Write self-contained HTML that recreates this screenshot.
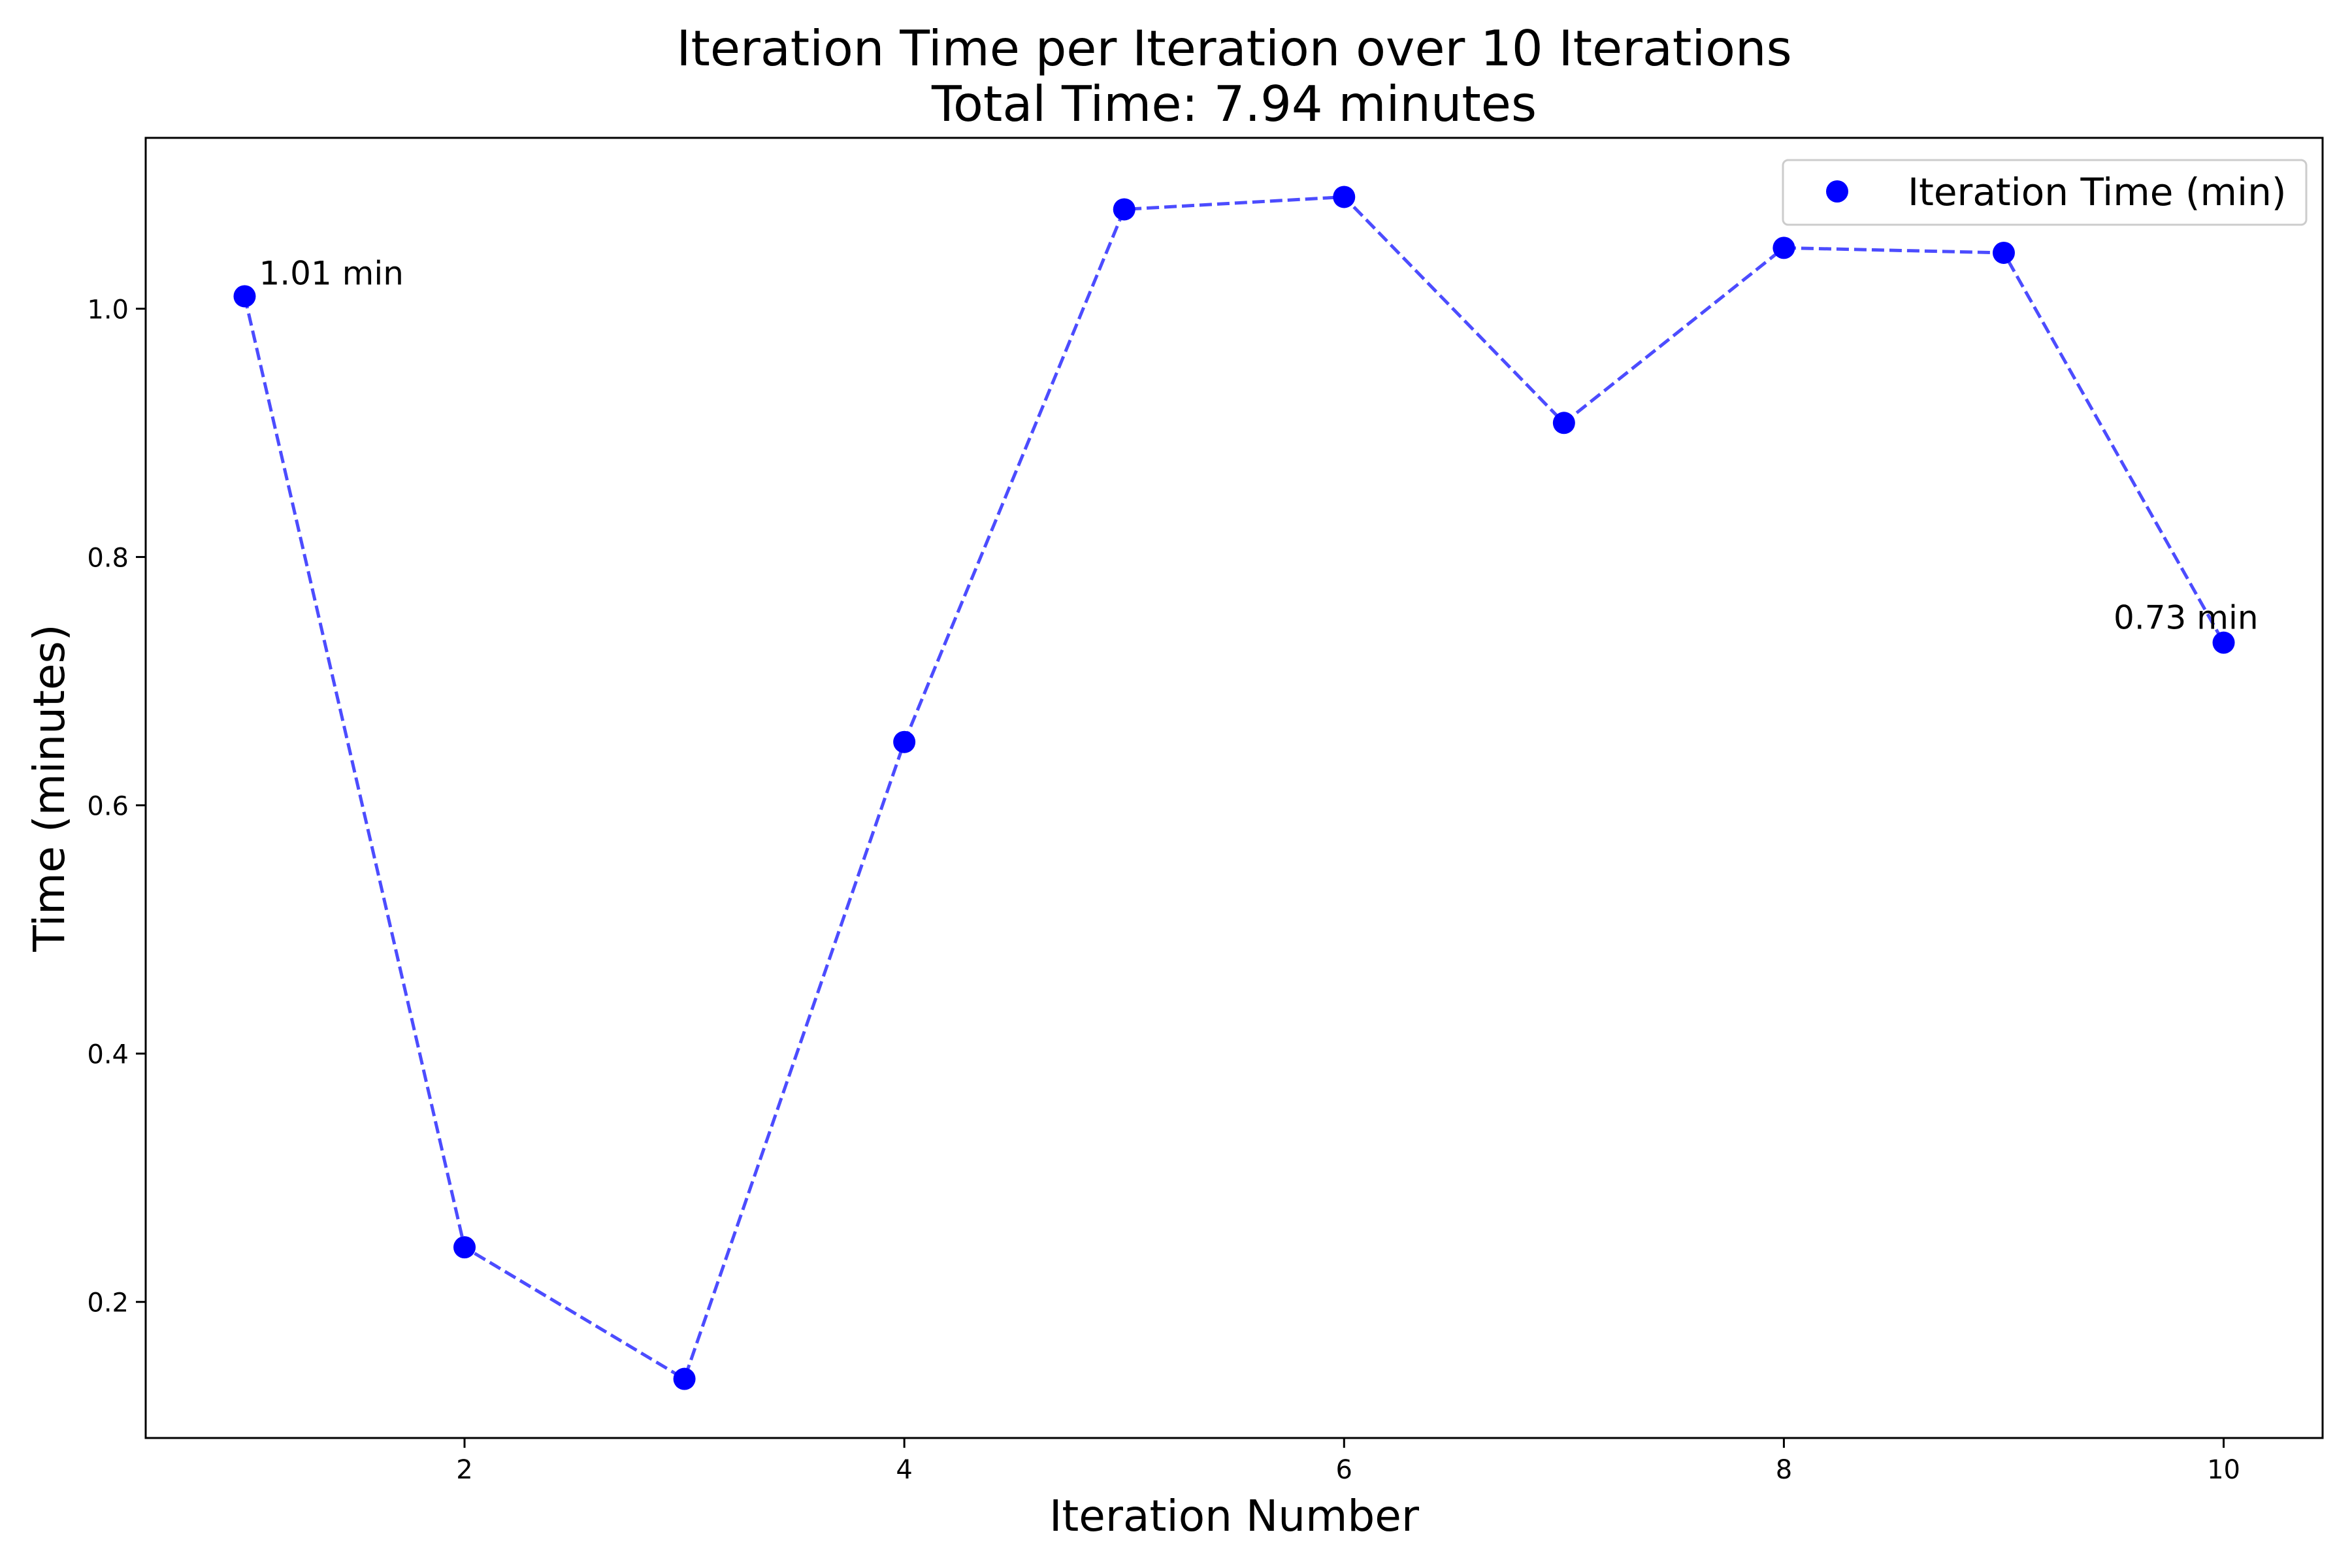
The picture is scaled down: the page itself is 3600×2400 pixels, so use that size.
<!DOCTYPE html>
<html><head><meta charset="utf-8"><style>body{margin:0;background:#fff}svg{display:block}text{font-family:"DejaVu Sans","Liberation Sans",sans-serif}</style></head>
<body>
<svg id="chart" width="3600" height="2400" viewBox="0 0 3600 2400" xmlns="http://www.w3.org/2000/svg">
<rect width="3600" height="2400" fill="#fff"/>
<text x="1889" y="100" font-size="75" text-anchor="middle">Iteration Time per Iteration over 10 Iterations</text>
<text x="1889" y="185" font-size="75" text-anchor="middle">Total Time: 7.94 minutes</text>
<g id="plot"></g>
<text x="1889" y="2343" font-size="66" text-anchor="middle">Iteration Number</text>
<text x="98" y="1206" font-size="66" text-anchor="middle" transform="rotate(-90 98 1206)">Time (minutes)</text>
<g>
<rect x="2729" y="245" width="801" height="99" rx="8" fill="#fff" stroke="#ccc" stroke-width="3"/>
<circle cx="2812" cy="293" r="17" fill="#0000ff"/>
<text x="2920" y="314" font-size="58">Iteration Time (min)</text>
</g>
<rect x="223" y="211" width="3332" height="1990" fill="none" stroke="#000" stroke-width="3"/>
</svg>
<script>
const iterations=[1,2,3,4,5,6,7,8,9,10];
const times=[1.01,0.244,0.138,0.651,1.080,1.090,0.908,1.049,1.045,0.731];
const xTicks=[2,4,6,8,10];
const yTicks=[0.2,0.4,0.6,0.8,1.0];
const yTickLabels=["0.2","0.4","0.6","0.8","1.0"];
const L=223,R=3555,T=211,B=2201;
const xmin=0.55,xmax=10.45,ymin=0.0904,ymax=1.1376;
const X=v=>L+(v-xmin)/(xmax-xmin)*(R-L);
const Y=v=>B-(v-ymin)/(ymax-ymin)*(B-T);
const NS="http://www.w3.org/2000/svg";
const g=document.getElementById('plot');
function mk(tag,attrs){const e=document.createElementNS(NS,tag);for(const k in attrs)e.setAttribute(k,attrs[k]);g.appendChild(e);return e;}
xTicks.forEach(t=>{
 const l=mk('line',{x1:X(t),x2:X(t),y1:B,y2:B+15,stroke:'#000','stroke-width':3});
 
 
 const tx=mk('text',{x:X(t),y:B+62,'font-size':40,'text-anchor':'middle'});tx.textContent=t;
 
 
});
yTicks.forEach((t,i)=>{
 const l=mk('line',{x1:L-15,x2:L,y1:Y(t),y2:Y(t),stroke:'#000','stroke-width':3});
 
 
 const tx=mk('text',{x:L-26,y:Y(t)+15,'font-size':40,'text-anchor':'end'});tx.textContent=yTickLabels[i];
 
 
});
const pts=iterations.map((v,i)=>X(v)+','+Y(times[i])).join(' ');
const line=mk('polyline',{points:pts,fill:'none',stroke:'#0000ff','stroke-opacity':0.7,'stroke-width':5,'stroke-dasharray':'19 8'});


iterations.forEach((v,i)=>{
 const c=mk('circle',{cx:X(v),cy:Y(times[i]),r:17,fill:'#0000ff'});
 
 
});
const a1=mk('text',{x:X(iterations[0])+22,y:Y(times[0])-18,'font-size':50});
a1.textContent=times[0].toFixed(2)+' min';


const n=times.length-1;
const a2=mk('text',{x:X(iterations[n])+53,y:Y(times[n])-21,'font-size':50,'text-anchor':'end'});
a2.textContent=times[n].toFixed(2)+' min';


</script>
</body></html>
